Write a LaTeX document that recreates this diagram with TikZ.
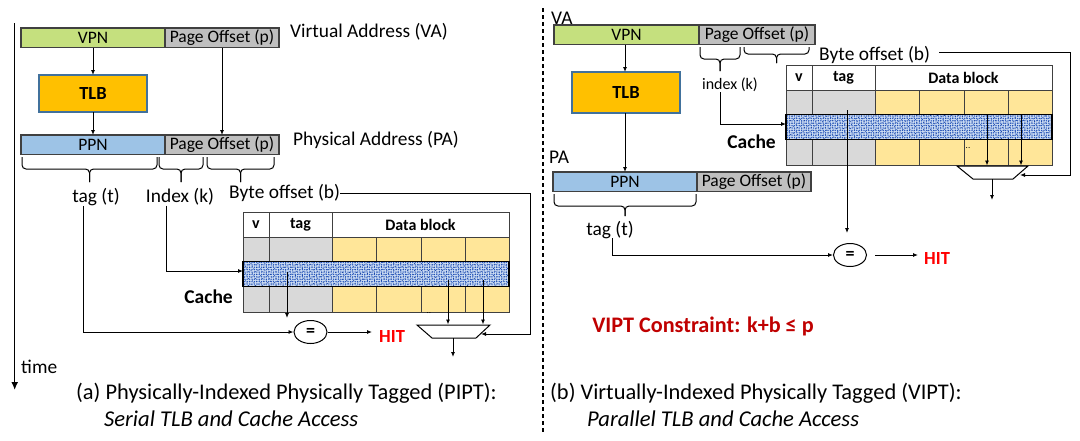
\documentclass[tikz,border=0pt]{standalone}
\usepackage{fontspec}
\setmainfont{Carlito}
\usetikzlibrary{patterns,patterns.meta,arrows.meta,shapes.geometric}
\definecolor{vpng}{HTML}{C5E07E}
\definecolor{ppnb}{HTML}{9DC3E6}
\definecolor{pog}{HTML}{BFBFBF}
\definecolor{tlbo}{HTML}{FFC000}
\definecolor{tlbb}{HTML}{41719C}
\definecolor{cgray}{HTML}{D9D9D9}
\definecolor{cyel}{HTML}{FFE699}
\definecolor{rowbg}{HTML}{CCDCF2}
\definecolor{dotb}{HTML}{2456C0}
\definecolor{hitred}{HTML}{FF0000}
\definecolor{vred}{HTML}{C00000}
\definecolor{edge}{HTML}{404040}
\newcommand\fs[1]{\fontsize{#1}{#1}\selectfont}
\newcommand\mybrace[5]{%
  \draw[brc] (#1,#3) -- (#1,#4) -- ({(#1+#2)/2},#4) -- ({(#1+#2)/2},#5);
  \draw[brc] (#2,#3) -- (#2,#4) -- ({(#1+#2)/2},#4) -- ({(#1+#2)/2},#5);}
\begin{document}
\begin{tikzpicture}[x=1pt,y=-1pt,
  arr/.style={-{Latex[length=5pt,width=4pt]}, line width=0.9pt},
  brc/.style={line width=1pt, rounded corners=4pt},
  bar/.style={draw=edge, line width=1.1pt, inner sep=0pt, outer sep=0pt, minimum height=19.5pt, anchor=north west, font=\fs{17.5}},
  tlbbox/.style={draw=tlbb, fill=tlbo, line width=1.1pt, inner sep=0pt, outer sep=0pt, anchor=north west, font=\fs{18.5}\bfseries},
  lbl/.style={inner sep=0pt, font=\fs{19.4}},
  cachelbl/.style={inner sep=0pt, font=\fs{19.5}\bfseries, anchor=east},
  hdr/.style={inner sep=0pt, font=\fs{16}\bfseries},
  cell/.style={draw=edge, line width=0.8pt},
  eqnode/.style={draw, ellipse, line width=1pt, minimum width=33pt, minimum height=23pt, inner sep=0pt, font=\fs{18}\bfseries},
  hit/.style={inner sep=0pt, font=\fs{18.5}\bfseries, text=hitred, anchor=west},
  mux/.style={draw, line width=1pt, fill=white},
  capt/.style={inner sep=0pt, font=\fs{22.4}, anchor=west},
  capti/.style={inner sep=0pt, font=\fs{22.6}\itshape, anchor=west},
  dots/.style={inner sep=0pt, font=\fs{9}},
  cachetab/.pic={
    \fill[cgray] (0,25) rectangle (89,100.5);
    \fill[cyel] (89,25) rectangle (266,100.5);
    \draw[cell] (0,0) rectangle (266,100.5);
    \draw[cell] (0,25) -- (266,25) (0,74.5) -- (266,74.5);
    \draw[cell] (26,0) -- (26,100.5) (89,0) -- (89,100.5);
    \draw[cell] (133,25) -- (133,100.5) (178,25) -- (178,100.5) (222,25) -- (222,100.5);
    \node[hdr] (-hv) at (13,12.5) {v};
    \node[hdr] (-ht) at (57.5,12.5) {tag};
    \node[hdr] (-hd) at (177.5,12.5) {Data block};
    \fill[rowbg] (0,49.5) rectangle (266,74.5);
    \fill[pattern={Dots[distance=2.4pt, radius=0.75pt]}, pattern color=dotb] (0,49.5) rectangle (266,74.5);
    \fill[pattern={Dots[distance=3.1pt, radius=0.65pt, angle=27]}, pattern color=dotb!85!black] (0,49.5) rectangle (266,74.5);
    \draw[line width=1.2pt] (0,49.5) rectangle (266,74.5);
    \coordinate (-rowin) at (0,59);
  }
]
\useasboundingbox (0,0) rectangle (1080,440);
\fill[white] (0,0) rectangle (1080,440);

% ================= LEFT (PIPT) =================
\coordinate (tt) at (14.7,23);
\coordinate (tb) at (14.7,390);
\draw[line width=1.5pt, -{Latex[length=8pt,width=7pt]}] (tt) -- (tb);
\node[lbl, anchor=west] (ltime) at (21,367) {time};

\node[bar, fill=vpng, minimum width=144pt] (lvpn) at (21,28) {VPN};
\node[bar, fill=pog, minimum width=114pt] (lvpo) at (165,28) {Page Offset (p)};
\node[tlbbox, minimum width=108pt, minimum height=37pt] (ltlb) at (39,75) {TLB};
\node[bar, fill=ppnb, minimum width=144pt] (lppn) at (21,135) {PPN};
\node[bar, fill=pog, minimum width=114pt] (lppo) at (165,135) {Page Offset (p)};
\node[lbl, anchor=west] (lvalbl) at (290,32) {Virtual Address (VA)};
\node[lbl, anchor=west] (lpalbl) at (293,140) {Physical Address (PA)};

\draw[arr] (lvpn) -- (ltlb);
\draw[arr] (ltlb) -- (lppn);
\draw[arr] (lvpo) -- (lppo);

\mybrace{22}{157}{157}{169}{182}
\mybrace{159}{203}{157}{169}{182}
\mybrace{207}{274}{157}{169}{182}

\node[lbl] (ltag) at (96,197) {tag (t)};
\node[lbl] (lidx) at (180,197) {Index (k)};
\node[lbl, anchor=west] (lbyte) at (229,193) {Byte offset (b)};

\pic (lc) at (243,212) {cachetab};
\node[cachelbl] (lcache) at (233,297) {Cache};

\node[eqnode] (leq) at (310.5,332) {=};
\node[hit] (lhit) at (379,336) {HIT};

\coordinate (lm1) at (417,325);
\coordinate (lm2) at (490,325);
\coordinate (lm3) at (476,338);
\coordinate (lm4) at (432,338);
\draw[mux] (lm1) -- (lm2) -- (lm3) -- (lm4) -- cycle;
\node[dots] (ldots) at (429,313) {..};

\coordinate (lbr) at (530,193);
\coordinate (lmuxr) at (481,334);
\coordinate (ltg1) at (287,272);
\coordinate (ltg2) at (287,318);
\coordinate (ld1a) at (448,280);
\coordinate (ld1b) at (448,324.5);
\coordinate (ld2a) at (483,280);
\coordinate (ld2b) at (483,324.5);
\coordinate (lout1) at (453,338);
\coordinate (lout2) at (453,357);
\coordinate (lhitarr) at (372,332);

\draw[arr] ([xshift=-13pt]ltag.south) |- (leq.west);
\draw[arr] ([xshift=-14pt]lidx.south) |- (lc-rowin);
\draw[arr] (lbyte.east) -- (lbr) |- (lmuxr);
\draw[arr] (ltg1) -- (ltg2);
\draw[arr] (ld1a) -- (ld1b);
\draw[arr] (ld2a) -- (ld2b);
\draw[arr] (lout1) -- (lout2);
\draw[arr] (leq.east) -- (lhitarr);

\node[capt] (lcap) at (76,393) {(a) Physically-Indexed Physically Tagged (PIPT):};
\node[capti] (lcapi) at (104,419) {Serial TLB and Cache Access};

% ================= divider =================
\coordinate (dv1) at (543,8);
\coordinate (dv2) at (543,432);
\draw[line width=1.5pt, dash pattern=on 4pt off 3pt] (dv1) -- (dv2);

% ================= RIGHT (VIPT) =================
\node[lbl, anchor=west] (rva) at (551,18) {VA};
\node[bar, fill=vpng, minimum width=145pt] (rvpn) at (554,25) {VPN};
\node[bar, fill=pog, minimum width=116pt] (rvpo) at (699,25) {Page Offset (p)};
\node[tlbbox, minimum width=108pt, minimum height=41pt] (rtlb) at (572,72) {TLB};
\node[lbl, anchor=west] (rpa) at (549,157) {PA};
\node[bar, fill=ppnb, minimum width=144pt] (rppn) at (553,172) {PPN};
\node[bar, fill=pog, minimum width=114pt] (rppo) at (697,172) {Page Offset (p)};

\draw[arr] (rvpn.south -| rppn.north) -- (rtlb.north -| rppn.north);
\draw[arr] (rtlb.south -| rppn.north) -- (rppn.north);

\mybrace{700}{740}{47}{59}{71}
\mybrace{744}{809}{47}{54}{63}
\mybrace{554}{696}{194}{206}{216}

\node[lbl, font=\fs{16}] (ridx) at (730,85) {index (k)};
\node[lbl, anchor=west] (rbyte) at (819,55) {Byte offset (b)};
\node[lbl] (rtag) at (610,230) {tag (t)};

\pic (rc) at (786,65) {cachetab};
\node[cachelbl] (rcache) at (776,142) {Cache};

\node[eqnode] (req) at (850,255) {=};
\node[hit] (rhit) at (924,258) {HIT};

\coordinate (rm1) at (957,166);
\coordinate (rm2) at (1028,166);
\coordinate (rm3) at (1013,179);
\coordinate (rm4) at (973,179);
\draw[mux] (rm1) -- (rm2) -- (rm3) -- (rm4) -- cycle;
\node[dots] (rdots) at (968,148) {..};

\coordinate (rbr) at (1070,52);
\coordinate (rmuxr) at (1020,175);
\coordinate (rtg1) at (847,110);
\coordinate (rtg2) at (847,233);
\coordinate (rd1a) at (987,114);
\coordinate (rd1b) at (987,165.5);
\coordinate (rd2a) at (1021,114);
\coordinate (rd2b) at (1021,165.5);
\coordinate (rout1) at (992,179);
\coordinate (rout2) at (992,200);
\coordinate (rtagl) at (612,238);
\coordinate (rhitarr) at (918,255);

\draw[arr] ([xshift=-10pt]ridx.south) |- (rc-rowin);
\draw[arr] ([xshift=9pt,yshift=3pt]rbyte.east) -- (rbr) |- (rmuxr);
\draw[arr] (rtg1) -- (rtg2);
\draw[arr] (rd1a) -- (rd1b);
\draw[arr] (rd2a) -- (rd2b);
\draw[arr] (rout1) -- (rout2);
\draw[arr] (rtagl) |- (req.west);
\draw[arr] ([xshift=8pt]req.east) -- (rhitarr);

\node[inner sep=0pt, font=\fs{22.2}\bfseries, text=vred] (vipt) at (703,326) {VIPT Constraint: k+b ≤ p};

\node[capt] (rcap) at (550,393) {(b) Virtually-Indexed Physically Tagged (VIPT):};
\node[capti] (rcapi) at (587,419) {Parallel TLB and Cache Access};
\end{tikzpicture}
\end{document}
